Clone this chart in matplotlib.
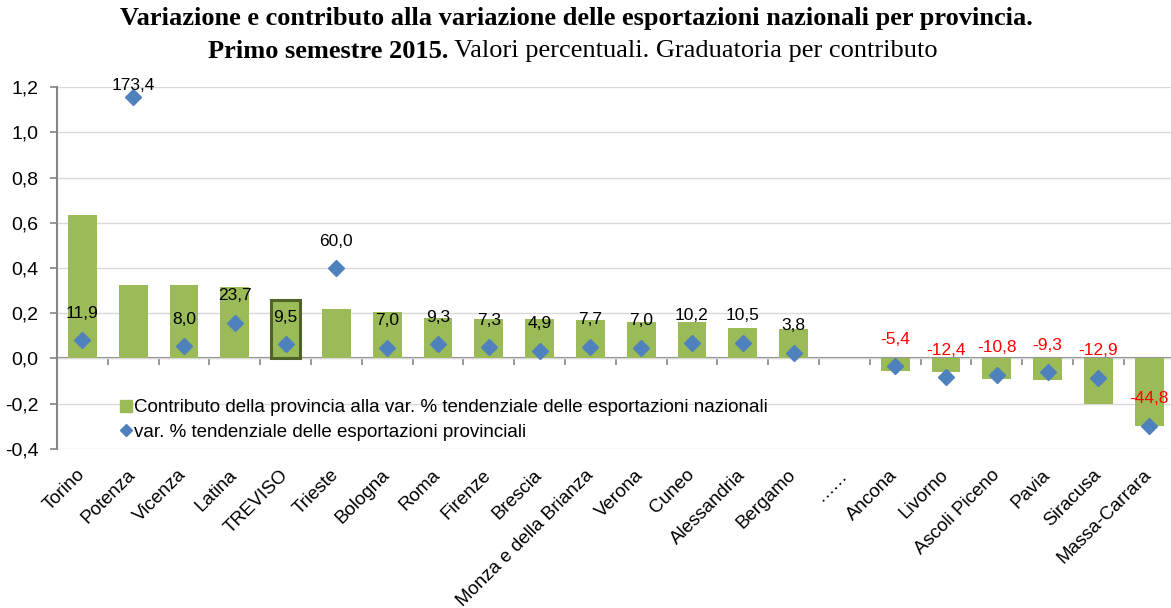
import matplotlib
matplotlib.use("Agg")
import matplotlib.pyplot as plt
from matplotlib.lines import Line2D
import numpy as np

plt.rcParams['font.family'] = ['Liberation Sans', 'DejaVu Sans']

categories = ["Torino", "Potenza", "Vicenza", "Latina", "TREVISO", "Trieste", "Bologna",
              "Roma", "Firenze", "Brescia", "Monza e della Brianza", "Verona", "Cuneo",
              "Alessandria", "Bergamo", "……", "Ancona", "Livorno", "Ascoli Piceno",
              "Pavia", "Siracusa", "Massa-Carrara"]
contributo = [0.635, 0.325, 0.325, 0.317, 0.258, 0.217, 0.205, 0.178, 0.175, 0.175,
              0.168, 0.161, 0.161, 0.134, 0.130, None, -0.055, -0.062, -0.092,
              -0.096, -0.204, -0.298]
variazione = [11.9, 173.4, 8.0, 23.7, 9.5, 60.0, 7.0, 9.3, 7.3, 4.9, 7.7, 7.0, 10.2,
              10.5, 3.8, None, -5.4, -12.4, -10.8, -9.3, -12.9, -44.8]
highlight = "TREVISO"

legend_labels = ["Contributo della provincia alla var. % tendenziale delle esportazioni nazionali",
                 "var. % tendenziale delle esportazioni provinciali"]
title1 = "Variazione e contributo alla variazione delle esportazioni nazionali per provincia."
title2_bold = "Primo semestre 2015."
title2_reg = " Valori percentuali. Graduatoria per contributo"

GREEN = "#9BBB59"
BLUE = "#4F81BD"
DARKGREEN = "#4F6228"
AXIS_GRAY = "#868686"
GRID = "#D9D9D9"

W, H = 1171, 608
fig = plt.figure(figsize=(W / 100, H / 100), dpi=100)
left_px, right_px, top_px, bot_px = 57, 1174.6, 87.3, 448.7
ax = fig.add_axes([left_px / W, 1 - bot_px / H, (right_px - left_px) / W, (bot_px - top_px) / H])

n = len(categories)
x = np.arange(n)
ax.set_xlim(-0.5, n - 0.5)
ax.set_ylim(-0.4, 1.2)

for i, (c, v) in enumerate(zip(categories, contributo)):
    if v is None:
        continue
    if c == highlight:
        ax.bar(i, v, width=0.57, color=GREEN, edgecolor=DARKGREEN, linewidth=2.2, zorder=3)
    else:
        ax.bar(i, v, width=0.57, color=GREEN, zorder=3)

# grid
yt = np.arange(-0.4, 1.21, 0.2)
ax.set_yticks(yt)
ax.set_yticklabels([f"{t:.1f}".replace('.', ',').replace('-0,0', '0,0') for t in yt])
ax.yaxis.grid(True, color=GRID, linewidth=1, zorder=0)
ax.set_axisbelow(True)
for s in ['top', 'right', 'bottom']:
    ax.spines[s].set_visible(False)
ax.spines['left'].set_color(AXIS_GRAY)
ax.spines['left'].set_linewidth(1.5)
ax.tick_params(axis='y', direction='out', length=5, width=1.2, color=AXIS_GRAY,
               labelsize=14, pad=8.5)
ax.set_xticks(x)
ax.set_xticklabels(categories, rotation=45, ha='right', va='center',
                   rotation_mode='anchor', fontsize=13.5)
ax.tick_params(axis='x', length=0, pad=17)

# zero axis with category boundary ticks
sec = ax.secondary_xaxis(0.25)
sec.set_xticks(np.arange(-0.5, n, 1.0))
sec.set_xticklabels([])
sec.tick_params(direction='out', length=5, width=1.2, color=AXIS_GRAY)
sec.spines['bottom'].set_color(AXIS_GRAY)
sec.spines['bottom'].set_linewidth(1.5)

# diamonds on hidden secondary axis
ax2 = ax.twinx()
ax2.set_ylim(-60, 180)
ax2.axis('off')
xs = [i for i, v in enumerate(variazione) if v is not None]
vs = [v for v in variazione if v is not None]
ax2.plot(xs, vs, linestyle='none', marker='D', markersize=8.5, color=BLUE,
         markeredgecolor=BLUE, zorder=4)

fig.canvas.draw()
to_px = ax2.transData
ax_top_px = ax2.transAxes.transform((0, 1))[1]
for xi, v in zip(xs, vs):
    py = to_px.transform((xi, v))[1]
    off = 27
    if py + off > ax_top_px:
        off = 12
    col = 'black' if v >= 0 else '#FF0000'
    ax2.annotate(f"{v:.1f}".replace('.', ','), (xi, v), xytext=(0, off),
                 textcoords='offset pixels', ha='center', va='center',
                 fontsize=12.5, color=col, zorder=5)

handles = [Line2D([], [], linestyle='none', marker='s', markersize=9, color=GREEN),
           Line2D([], [], linestyle='none', marker='D', markersize=6.5, color=BLUE)]
fig.legend(handles, legend_labels, loc='upper left', bbox_to_anchor=(118 / W, 1 - 399 / H),
           frameon=False, fontsize=13.5, handlelength=0.8, handletextpad=0.05,
           labelspacing=0.4, borderpad=0, borderaxespad=0)

# titles
fig.text(0.492, 1 - 18 / H, title1, ha='center', va='center', fontsize=19,
         fontweight='bold', family='Liberation Serif')
t1 = fig.text(0, 1 - 51 / H, title2_bold, ha='left', va='center', fontsize=19,
              fontweight='bold', family='Liberation Serif')
t2 = fig.text(0, 1 - 51 / H, title2_reg, ha='left', va='center', fontsize=19,
              family='Liberation Serif')
r = fig.canvas.get_renderer()
w1 = t1.get_window_extent(r).width
w2 = t2.get_window_extent(r).width
cx = 572.5
start = cx - (w1 + w2) / 2
t1.set_x(start / W)
t2.set_x((start + w1) / W)

fig.savefig("out.png", dpi=100)
